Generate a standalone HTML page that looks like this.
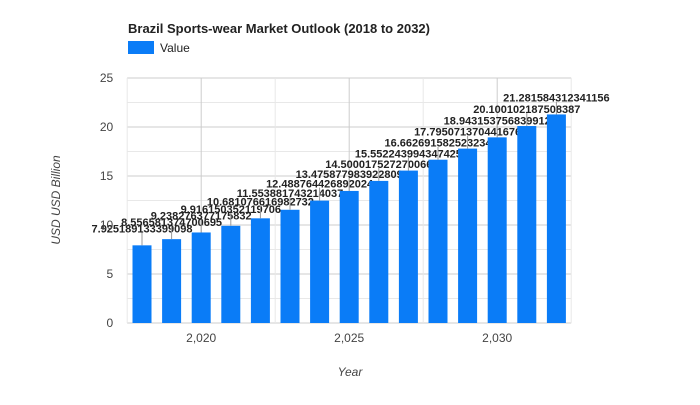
<!DOCTYPE html>
<html><head><meta charset="utf-8"><style>
body{margin:0;background:#fff;font-family:"Liberation Sans",Arial,sans-serif}
</style></head><body>
<svg width="700" height="400" xmlns="http://www.w3.org/2000/svg">
<text x="128" y="33" font-size="13" font-weight="bold" fill="#222">Brazil Sports-wear Market Outlook (2018 to 2032)</text>
<rect x="128" y="41" width="26" height="13" fill="#0a7cf7"/>
<text x="160" y="52" font-size="12" fill="#222">Value</text>
<g id="grid"></g>
<g id="bars"></g>
<g id="axes"></g>
<text transform="translate(60,200) rotate(-90)" text-anchor="middle" font-size="12" font-style="italic" fill="#444">USD USD Billion</text>
<text x="350" y="376" text-anchor="middle" font-size="12" font-style="italic" fill="#444">Year</text>
</svg>
<script>
const years=[2018,2019,2020,2021,2022,2023,2024,2025,2026,2027,2028,2029,2030,2031,2032];
const values=[7.925189133399098,8.556581374700695,9.238276377175832,9.916150352119706,10.681076616982732,11.553881743214037,12.488764426892024,13.475877983922809,14.500017527270066,15.552243994347425,16.662691582523234,17.795071370441676,18.943153756839912,20.100102187508387,21.281584312341156];
const labels=["7.925189133399098","8.556581374700695","9.238276377175832","9.916150352119706","10.681076616982732","11.553881743214037","12.488764426892024","13.475877983922809","14.500017527270066","15.552243994347425","16.662691582523234","17.795071370441676","18.943153756839912","20.100102187508387","21.281584312341156"];
const yTicks=[0,5,10,15,20,25];
const xTicks=[2020,2025,2030];
const xTickLabels=["2,020","2,025","2,030"];
const NS="http://www.w3.org/2000/svg";
const L=127.2,R=571.2,T=78,B=323;
const x=v=>L+(v-2017.5)/15*(R-L);
const y=v=>B-v/25*(B-T);
function mk(tag,attrs,parent,text){const e=document.createElementNS(NS,tag);for(const k in attrs)e.setAttribute(k,attrs[k]);if(text!==undefined)e.textContent=text;parent.appendChild(e);return e;}
const grid=document.getElementById('grid'),bars=document.getElementById('bars'),axes=document.getElementById('axes');
for(let v=0;v<=25;v+=2.5){const g=mk('line',{x1:L,x2:R,y1:y(v),y2:y(v),stroke:v%5===0?'#ccc':'#e8e8e8'},grid);

}
for(let v=2017.5;v<=2032.5;v+=2.5){const g=mk('line',{x1:x(v),x2:x(v),y1:T,y2:B,stroke:(v%5===0)?'#ccc':'#e8e8e8'},grid);

}
yTicks.forEach(t=>{const e=mk('text',{x:L-14,y:y(t)+4,'text-anchor':'end','font-size':12,fill:'#444'},axes,String(t));

});
xTicks.forEach((t,i)=>{const e=mk('text',{x:x(t),y:B+19,'text-anchor':'middle','font-size':12,fill:'#444'},axes,xTickLabels[i]);

});
const bw=19;
years.forEach((yr,i)=>{const cx=x(yr),top=y(values[i]);
const r=mk('rect',{x:cx-bw/2,y:top,width:bw,height:B-top,fill:'#0a7cf7'},bars);


const ln=mk('line',{x1:cx,x2:cx,y1:top,y2:top-13,stroke:'#999'},bars);


const t=mk('text',{x:cx,y:top-13,'text-anchor':'middle','font-size':11,'font-weight':'bold',fill:'#222'},bars,labels[i]);

});
</script>
</body></html>
